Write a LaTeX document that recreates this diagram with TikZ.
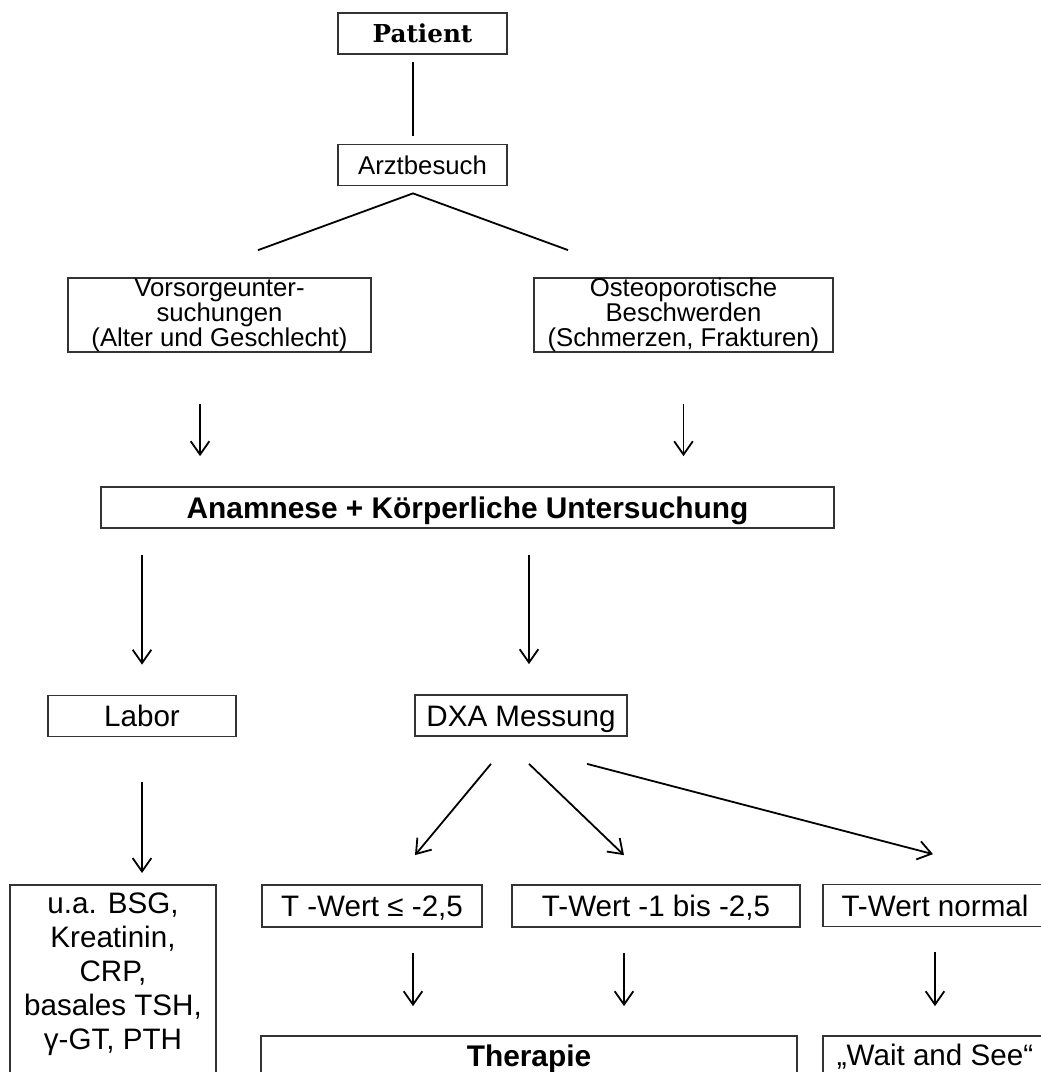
\documentclass[tikz,border=0pt]{standalone}
\usepackage{fontspec}
\setmainfont{Liberation Sans}
\newfontfamily\patientfont{DejaVu Serif}
\usetikzlibrary{arrows.meta,calc}

\tikzset{
    box/.style={draw=black!80, line width=1.3pt, inner sep=0pt, align=center},
    oneline/.style={text height=#1, text depth=0pt},
    upper/.style={font=\fontsize{19.3}{18.8}\selectfont},
    lower/.style={font=\fontsize{22.2}{25.5}\selectfont},
    heavy/.style={font=\bfseries\fontsize{22.4}{26}\selectfont},
    conn/.style={line width=1.35pt},
    arr/.style={conn, -{Straight Barb[length=10pt,width=14pt]}},
}

\begin{document}
\begin{tikzpicture}[x=0.75pt, y=-0.75pt]
            \useasboundingbox (0,0) rectangle (1041,1072);
            \clip (0,0) rectangle (1041,1072);

            \node[box, oneline=13.5pt, minimum width=126.75pt, minimum height=30.75pt, font=\patientfont\bfseries\fontsize{18.5}{20}\selectfont] (patient) at (422.5,33.5) {Patient};
            \node[box, oneline=13.8pt, upper, minimum width=126.75pt, minimum height=30.75pt] (arzt) at (422.5,165) {Arztbesuch};
            \node[box, upper, minimum width=227.25pt, minimum height=55.5pt] (vorsorge) at (219.5,315) {Vorsorgeunter-\\suchungen\\(Alter und Geschlecht)};
            \node[box, upper, minimum width=224.25pt, minimum height=55.5pt] (osteo) at (683.5,315) {Osteoporotische\\Beschwerden\\(Schmerzen, Frakturen)};
            \node[box, oneline=16pt, heavy, minimum width=549.75pt, minimum height=30.75pt] (anamnese) at (467.5,507.5) {Anamnese + Körperliche Untersuchung};
            \node[box, oneline=15.9pt, lower, minimum width=141pt, minimum height=30.75pt] (labor) at (142,716) {Labor};
            \node[box, oneline=15.9pt, lower, minimum width=159pt, minimum height=30.75pt] (dxa) at (521,715.5) {DXA Messung};
            \node[box, lower, anchor=north, inner ysep=6pt] (werte) at (113,884)
                {\parbox[t][150pt][t]{154.5pt}{\centering u.a. BSG,\\Kreatinin,\\CRP,\\basales TSH,\\γ-GT, PTH}};
            \node[box, oneline=15.9pt, lower, minimum width=165pt, minimum height=31.5pt] (tlow) at (372,906) {T -Wert ≤ -2,5};
            \node[box, oneline=15.9pt, lower, minimum width=216pt, minimum height=31.5pt] (tmid) at (656,906) {T-Wert -1 bis -2,5};
            \node[box, oneline=15.9pt, lower, minimum width=168pt, minimum height=31.5pt] (tnorm) at (935,905.5) {T-Wert normal};
            \node[box, oneline=16pt, heavy, minimum width=402pt, minimum height=30pt] (therapie) at (529,1056) {Therapie};
            \node[box, oneline=15.9pt, lower, minimum width=168pt, minimum height=27.75pt] (wait) at (935,1054.5) {„Wait and See“};

            \coordinate (fork) at ($(arzt.south)+(-9.5,7)$);
            \draw[conn, shorten <=5.25pt, shorten >=6pt] ([xshift=-7.1pt]patient.south) -- ([xshift=-7.1pt]arzt.north);
            \draw[conn] ($(vorsorge.north)+(38.5,-27)$) -- (fork) -- ($(osteo.north)+(-115.5,-27)$);

            \draw[arr, shorten <=38.25pt, shorten >=22.5pt] ([xshift=-14.6pt]vorsorge.south) -- ([xshift=-14.6pt]vorsorge.south |- anamnese.north);
            \draw[arr, shorten <=38.25pt, shorten >=22.5pt] (osteo.south) -- (osteo.south |- anamnese.north);
            \draw[arr, shorten <=19.5pt, shorten >=22.5pt] (labor.north |- anamnese.south) -- (labor.north);
            \draw[arr, shorten <=19.5pt, shorten >=22.5pt] ([xshift=6pt]dxa.north |- anamnese.south) -- ([xshift=6pt]dxa.north);
            \draw[arr, shorten <=33.75pt, shorten >=8.25pt] (labor.south) -- (labor.south |- werte.north);

            \draw[arr] ($(dxa.south)+(-30,27)$) -- ($(tlow.north)+(43,-29)$);
            \draw[arr] ($(dxa.south)+(8,27)$) -- ($(tmid.north)+(-32,-29)$);
            \draw[arr] ($(dxa.south)+(66,27)$) -- ($(tnorm.north)+(-2,-29.5)$);

            \draw[arr, shorten <=18.75pt, shorten >=21.75pt] ([xshift=30.75pt]tlow.south) -- ([xshift=30.75pt]tlow.south |- therapie.north);
            \draw[arr, shorten <=18.75pt, shorten >=21.75pt] ([xshift=-24pt]tmid.south) -- ([xshift=-24pt]tmid.south |- therapie.north);
            \draw[arr, shorten <=18.75pt, shorten >=21.75pt] (tnorm.south) -- (tnorm.south |- wait.north);
        \end{tikzpicture}
\end{document}
